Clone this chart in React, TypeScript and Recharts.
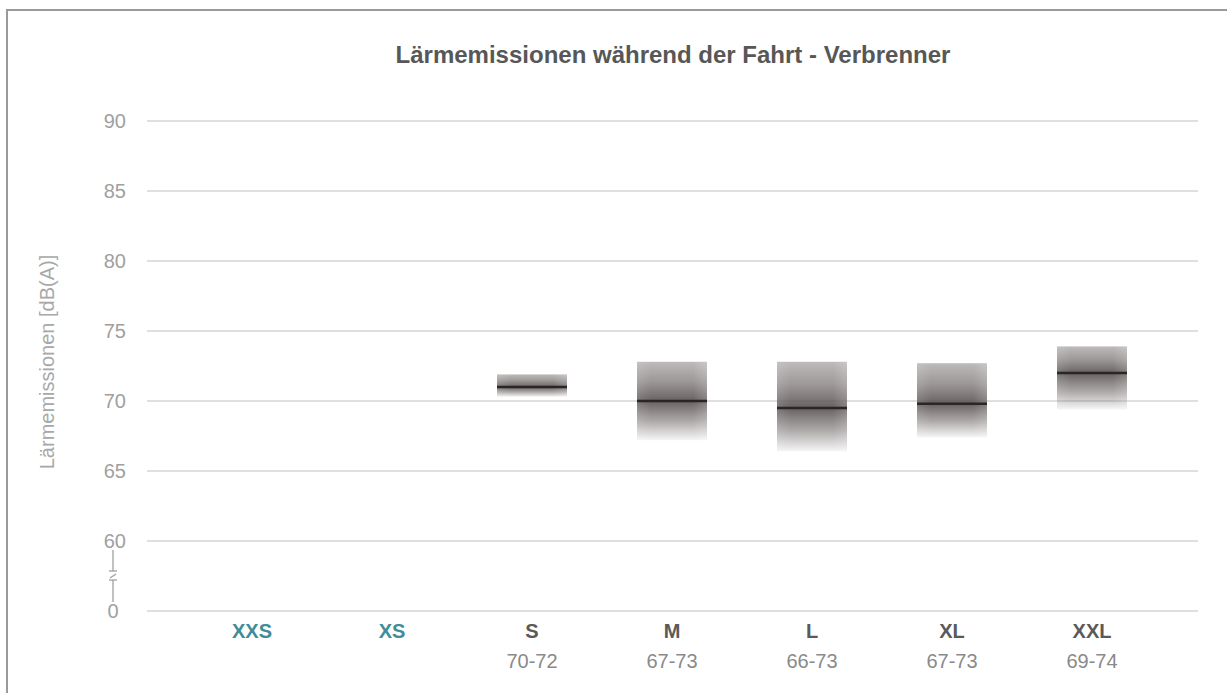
import React from 'react';
import { ComposedChart, Bar, XAxis, YAxis, CartesianGrid, Customized } from 'recharts';

const categories = ['XXS', 'XS', 'S', 'M', 'L', 'XL', 'XXL'];
const rangeLabels = ['', '', '70-72', '67-73', '66-73', '67-73', '69-74'];
const lowValues: (number | null)[] = [null, null, 70.3, 67.2, 66.4, 67.4, 69.4];
const highValues: (number | null)[] = [null, null, 71.9, 72.8, 72.8, 72.7, 73.9];
const medianValues: (number | null)[] = [null, null, 71, 70, 69.5, 69.8, 72];
const highlightedCategories = ['XXS', 'XS'];

const yTicks = [55, 60, 65, 70, 75, 80, 85, 90];
const yTickLabels = ['0', '60', '65', '70', '75', '80', '85', '90'];
const axisBreakValue = 55;

const title = 'Lärmemissionen während der Fahrt - Verbrenner';
const yAxisTitle = 'Lärmemissionen [dB(A)]';

const data = categories.map((c, i) => ({
  category: c,
  rangeLabel: rangeLabels[i],
  low: lowValues[i],
  high: highValues[i],
  median: medianValues[i],
  range: lowValues[i] != null ? [lowValues[i], highValues[i]] : null,
}));

const FONT = '"Liberation Sans", Arial, Helvetica, sans-serif';

const RangeShape = (props: any) => {
  const { x, y, width, height, payload, index } = props;
  if (!payload || payload.low == null || !height) return null;
  const frac = (payload.high - payload.median) / (payload.high - payload.low);
  const medY = y + frac * height;
  const id = `rangeGrad-${index}`;
  const hid = `rangeGradH-${index}`;
  return (
    <g>
      <defs>
        <linearGradient id={id} x1="0" y1="0" x2="0" y2="1">
          <stop offset="0" stopColor="#6e6767" stopOpacity={0.45} />
          <stop offset={frac * 0.5} stopColor="#6e6767" stopOpacity={0.68} />
          <stop offset={frac} stopColor="#5a5353" stopOpacity={0.92} />
          <stop offset={frac + (1 - frac) * 0.5} stopColor="#6e6767" stopOpacity={0.58} />
          <stop offset="1" stopColor="#6e6767" stopOpacity={0.06} />
        </linearGradient>
        <linearGradient id={hid} x1="0" y1="0" x2="1" y2="0">
          <stop offset="0" stopColor="#ffffff" stopOpacity={0.12} />
          <stop offset="0.2" stopColor="#ffffff" stopOpacity={0} />
          <stop offset="0.8" stopColor="#ffffff" stopOpacity={0} />
          <stop offset="1" stopColor="#ffffff" stopOpacity={0.18} />
        </linearGradient>
      </defs>
      <rect x={x} y={y} width={width} height={height} fill={`url(#${id})`} />
      <rect x={x} y={y} width={width} height={height} fill={`url(#${hid})`} />
      <line x1={x} x2={x + width} y1={medY} y2={medY} stroke="#2a2626" strokeWidth={2.5} />
    </g>
  );
};

const YTick = (props: any) => {
  const { x, y, payload } = props;
  const idx = yTicks.indexOf(payload.value);
  const label = yTickLabels[idx];
  if (payload.value === axisBreakValue) {
    const cx = x - 13;
    return (
      <g stroke="#a0a0a0" strokeWidth={1.3} fill="none">
        <line x1={cx} x2={cx} y1={y - 61} y2={y - 40} />
        <line x1={cx - 4} x2={cx + 4} y1={y - 40} y2={y - 40} />
        <line x1={cx - 3} x2={cx + 3} y1={y - 33} y2={y - 37} />
        <line x1={cx - 4} x2={cx + 4} y1={y - 31} y2={y - 31} />
        <line x1={cx} x2={cx} y1={y - 31} y2={y - 9} />
        <text x={cx} y={y} dy={7} textAnchor="middle" fill="#a0a0a0" stroke="none" fontSize={20} fontFamily={FONT}>
          {label}
        </text>
      </g>
    );
  }
  return (
    <text x={x} y={y} dy={7} textAnchor="end" fill="#a0a0a0" fontSize={20} fontFamily={FONT}>
      {label}
    </text>
  );
};

const XTick = (props: any) => {
  const { x, y, payload, index } = props;
  const cat = payload.value;
  const highlighted = highlightedCategories.includes(cat);
  const range = rangeLabels[categories.indexOf(cat)];
  return (
    <g key={index}>
      <text x={x} y={y + 27} textAnchor="middle" fontSize={20} fontWeight="bold" fontFamily={FONT} fill={highlighted ? '#3f8d98' : '#5a5a5a'}>
        {cat}
      </text>
      {range ? (
        <text x={x} y={y + 57} textAnchor="middle" fontSize={20} fontFamily={FONT} fill="#8a8a8a">
          {range}
        </text>
      ) : null}
    </g>
  );
};

export default function App() {
  return (
    <div style={{ position: 'absolute', left: 0, top: 0, width: 1227, height: 693, background: '#fff' }}>
      <div
        style={{
          position: 'absolute',
          left: 6,
          top: 9,
          width: 1240,
          height: 700,
          borderLeft: '2px solid #9a9a9a',
          borderTop: '2px solid #9a9a9a',
          boxSizing: 'border-box',
        }}
      />
      <div style={{ position: 'absolute', left: 0, top: 0 }}>
        <ComposedChart
          width={1227}
          height={693}
          data={data}
          margin={{ top: 121, right: 29, left: 87, bottom: 0 }}
          barCategoryGap="25%"
        >
          <CartesianGrid horizontal vertical={false} stroke="#d4d4d4" strokeWidth={1.5} />
          <XAxis
            dataKey="category"
            axisLine={false}
            tickLine={false}
            tickSize={0}
            tickMargin={0}
            height={82}
            padding={{ left: 35, right: 36 }}
            tick={<XTick />}
            interval={0}
          />
          <YAxis
            type="number"
            domain={[55, 90]}
            ticks={yTicks}
            axisLine={false}
            tickLine={false}
            tickSize={0}
            tickMargin={21}
            width={60}
            tick={<YTick />}
            interval={0}
            allowDataOverflow
          />
          <Bar dataKey="range" shape={<RangeShape />} isAnimationActive={false} />
          <Customized
            component={() => (
              <g>
                <text x={673} y={63} textAnchor="middle" fontSize={24} fontWeight="bold" fill="#575757" fontFamily={FONT}>
                  {title}
                </text>
                <text
                  transform="translate(47,362) rotate(-90)"
                  textAnchor="middle"
                  dominantBaseline="central"
                  fontSize={20}
                  fill="#a8a8a8"
                  fontFamily={FONT}
                >
                  {yAxisTitle}
                </text>
              </g>
            )}
          />
        </ComposedChart>
      </div>
    </div>
  );
}
